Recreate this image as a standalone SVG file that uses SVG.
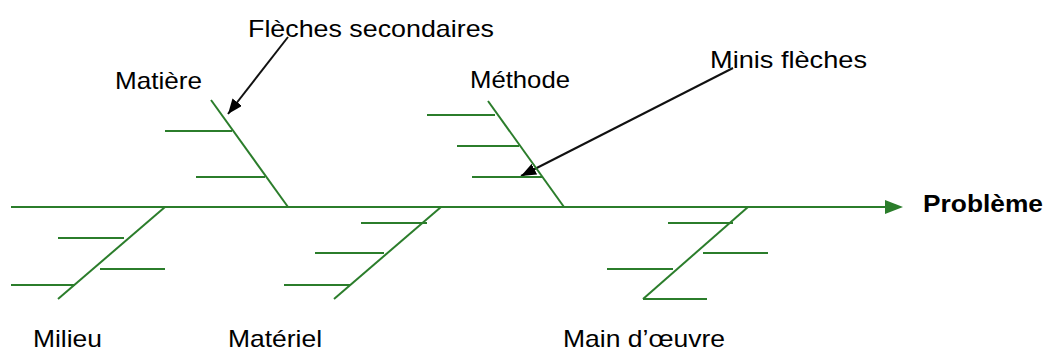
<svg xmlns="http://www.w3.org/2000/svg" width="1048" height="354" viewBox="0 0 1048 354">
<style>
.g{stroke:#2b7d2b;stroke-width:2;fill:none;stroke-linecap:butt}
.b{stroke:#111;stroke-width:2;fill:none}
text{font-family:"Liberation Sans",Arial,sans-serif;font-size:24px;fill:#000}
.bold{font-weight:bold}
</style>
<defs>
<marker id="ba" viewBox="0 0 10 10" refX="10" refY="5" markerWidth="15" markerHeight="12" markerUnits="userSpaceOnUse" orient="auto" preserveAspectRatio="none"><path d="M0,0 L10,5 L0,10 Z" fill="#000"/></marker>
</defs>
<g id="connectors">
<line class="g" x1="11" y1="207" x2="885" y2="207"/>
<path d="M885,200 L903,207 L885,214 Z" fill="#2b7d2b"/>
<line class="b" x1="288" y1="37" x2="228" y2="114" marker-end="url(#ba)"/>
<line class="b" x1="733" y1="68" x2="521" y2="176" marker-end="url(#ba)"/>
</g>
<g id="matiere">
<line class="g" x1="211" y1="100" x2="288" y2="207"/>
<line class="g" x1="165" y1="131" x2="232" y2="131"/>
<line class="g" x1="196" y1="177" x2="265" y2="177"/>
<text x="115" y="89" textLength="87" lengthAdjust="spacingAndGlyphs">Matière</text>
</g>
<g id="methode">
<line class="g" x1="488" y1="101" x2="564" y2="207"/>
<line class="g" x1="427" y1="115" x2="495" y2="115"/>
<line class="g" x1="457" y1="146" x2="519" y2="146"/>
<line class="g" x1="472" y1="177" x2="542" y2="177"/>
<text x="470" y="88" textLength="100" lengthAdjust="spacingAndGlyphs">Méthode</text>
</g>
<g id="milieu">
<line class="g" x1="165" y1="207" x2="58" y2="299"/>
<line class="g" x1="58" y1="238" x2="124" y2="238"/>
<line class="g" x1="100" y1="269" x2="165" y2="269"/>
<line class="g" x1="11" y1="285" x2="75" y2="285"/>
<text x="33" y="347" textLength="69" lengthAdjust="spacingAndGlyphs">Milieu</text>
</g>
<g id="materiel">
<line class="g" x1="441" y1="207" x2="334" y2="299"/>
<line class="g" x1="361" y1="223" x2="427" y2="223"/>
<line class="g" x1="315" y1="253" x2="384" y2="253"/>
<line class="g" x1="284" y1="285" x2="350" y2="285"/>
<text x="228" y="347" textLength="94" lengthAdjust="spacingAndGlyphs">Matériel</text>
</g>
<g id="main-oeuvre">
<line class="g" x1="748" y1="207" x2="643" y2="299"/>
<line class="g" x1="668" y1="223" x2="733" y2="223"/>
<line class="g" x1="703" y1="253" x2="768" y2="253"/>
<line class="g" x1="607" y1="269" x2="673" y2="269"/>
<line class="g" x1="643" y1="299" x2="707" y2="299"/>
<text x="563" y="347" textLength="162" lengthAdjust="spacingAndGlyphs">Main d’œuvre</text>
</g>
<g id="probleme">
<text class="bold" x="923" y="212" textLength="120" lengthAdjust="spacingAndGlyphs">Problème</text>
</g>
<g id="labels">
<text x="248" y="37" textLength="246" lengthAdjust="spacingAndGlyphs">Flèches secondaires</text>
<text x="710" y="68" textLength="157" lengthAdjust="spacingAndGlyphs">Minis flèches</text>
</g>
</svg>
